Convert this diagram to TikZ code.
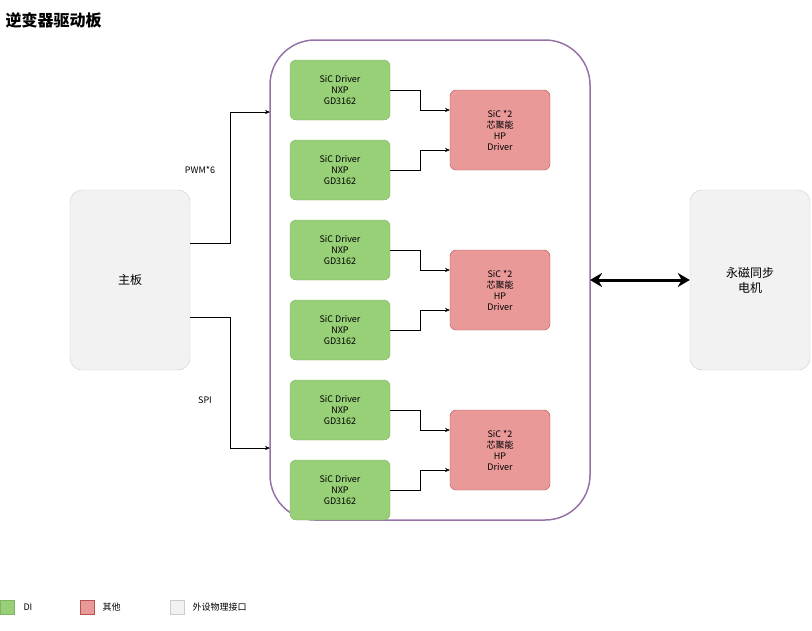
\documentclass[tikz,border=0pt]{standalone}
\usepackage{fontspec}
\setmainfont{Noto Sans CJK SC}
\usetikzlibrary{arrows.meta}
\definecolor{gf}{HTML}{97D077}\definecolor{gs}{HTML}{82B366}
\definecolor{rf}{HTML}{EA9999}\definecolor{rs}{HTML}{B85450}
\definecolor{pf}{HTML}{F2F2F2}\definecolor{ps}{HTML}{CCCCCC}
\definecolor{pu}{HTML}{9673A6}
\begin{document}
\begin{tikzpicture}[x=1pt,y=-1pt,
 box/.style={draw,rounded corners=6pt,minimum width=100pt,minimum height=60pt,align=center,font=\fontsize{9}{11}\selectfont,inner sep=0pt},
 drv/.style={box,fill=gf,draw=gs},
 hp/.style={box,fill=rf,draw=rs,minimum height=80pt},
 per/.style={box,fill=pf,draw=ps,minimum width=120pt,minimum height=180pt,rounded corners=12pt,font=\fontsize{12}{15}\selectfont},
 con/.style={-{Stealth[length=5pt,width=4pt]},black,line width=0.6pt},
 lab/.style={font=\fontsize{9}{11}\selectfont}]
\useasboundingbox (0,0) rectangle (812,630);
\node[anchor=west,font=\bfseries\fontsize{16}{18}\selectfont] (title) at (2,20) {逆变器驱动板};
\draw[pu,line width=1.5pt,rounded corners=45pt] (270,40) rectangle (590,520);
\node[per] (mb) at (130,280) {主板};
\node[per] (mo) at (750,280) {永磁同步\\电机};
\foreach \i/\y in {1/90,2/170,3/250,4/330,5/410,6/490}
  \node[drv] (d\i) at (340,\y) {SiC Driver\\NXP\\GD3162};
\foreach \i/\y in {1/130,2/290,3/450}
  \node[hp] (h\i) at (500,\y) {SiC *2\\芯聚能\\HP\\Driver};
\foreach \a/\b/\h in {1/3/1,3/4/2,5/6/3}{}
\foreach \a/\b/\h/\yt/\yb in {1/2/1/110/150,3/4/2/270/310,5/6/3/430/470}{
  \draw[con] (d\a.east) -- (420,\yt-20+0) |- (450,\yt);
  \draw[con] (d\b.east) -- (420,\yb+20) |- (450,\yb);
}
\coordinate (c1) at (270,112);\coordinate (c2) at (270,448);
\draw[con] (190,243) -- (230,243) |- (c1);
\draw[con] (190,317) -- (230,317) |- (c2);
\node[lab] (pwm) at (200,170) {PWM*6};
\node[lab] (spi) at (205,400) {SPI};
\draw[{Stealth[length=12pt,width=14pt]}-{Stealth[length=12pt,width=14pt]},line width=3pt] (mo.west) -- (590,280);
\node[draw=gs,fill=gf,minimum size=14pt,inner sep=0pt] (l1) at (7,607) {};
\node[lab,anchor=west] (t1) at (20,607) {DI};
\node[draw=rs,fill=rf,minimum size=14pt,inner sep=0pt] (l2) at (87,607) {};
\node[lab,anchor=west] (t2) at (99,607) {其他};
\node[draw=ps,fill=pf,minimum size=14pt,inner sep=0pt] (l3) at (177,607) {};
\node[lab,anchor=west] (t3) at (189,607) {外设物理接口};
\end{tikzpicture}
\end{document}
